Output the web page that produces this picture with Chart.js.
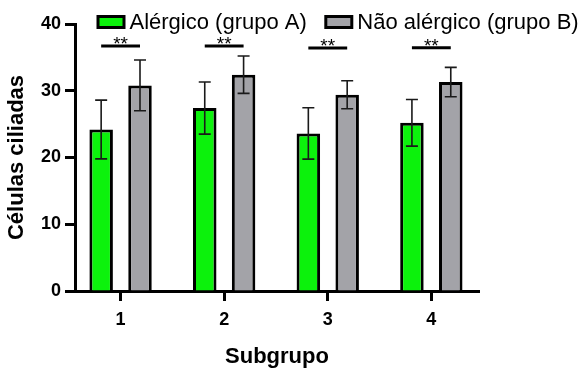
<!DOCTYPE html>
<html lang="pt">
<head>
<meta charset="utf-8">
<title>Células ciliadas por subgrupo</title>
<script src="https://cdn.jsdelivr.net/npm/chart.js@4.4.1/dist/chart.umd.min.js"></script>
<style>
  html, body { margin: 0; padding: 0; background: #fff; }
  #wrap { width: 587px; height: 369px; position: relative; }
</style>
</head>
<body>
<div id="wrap"><canvas id="chart"></canvas></div>
<script>
// Data
const subgroups = ['1', '2', '3', '4'];
const seriesNames = ['Alérgico (grupo A)', 'Não alérgico (grupo B)'];
const groupA = [24.2, 27.4, 23.6, 25.2];
const groupA_sd = [4.4, 3.9, 3.85, 3.5];
const groupB = [30.8, 32.4, 29.4, 31.3];
const groupB_sd = [3.8, 2.8, 2.1, 2.2];
const sigLevels = [36.7, 36.7, 36.4, 36.45];
const sigMarks = ['**', '**', '**', '**'];
const yTicks = [0, 10, 20, 30, 40];

const FONT = '"Liberation Sans", Arial, Helvetica, sans-serif';
const GREEN = '#0cf20c';
const GRAY = '#a3a3a8';

// x position for each subgroup is its index + 1 on a linear axis
const toPoints = vals => vals.map((v, i) => ({ x: i + 1, y: v }));

/* ---------- error bars drawn from the bar elements ---------- */
const errorBars = {
  id: 'errorBars',
  afterDatasetsDraw(chart) {
    const ctx = chart.ctx;
    const y = chart.scales.y;
    const sds = [groupA_sd, groupB_sd];
    ctx.save();
    ctx.strokeStyle = '#1a1a1a';
    ctx.lineWidth = 1.6;
    chart.data.datasets.forEach((ds, di) => {
      const meta = chart.getDatasetMeta(di);
      meta.data.forEach((bar, i) => {
        const mean = ds.data[i].y;
        const top = y.getPixelForValue(mean + sds[di][i]);
        const bot = y.getPixelForValue(mean - sds[di][i]);
        const half = 6;
        ctx.beginPath();
        ctx.moveTo(bar.x, top); ctx.lineTo(bar.x, bot);
        ctx.moveTo(bar.x - half, top); ctx.lineTo(bar.x + half, top);
        ctx.moveTo(bar.x - half, bot); ctx.lineTo(bar.x + half, bot);
        ctx.stroke();
      });
    });
    ctx.restore();
  }
};

/* ---------- significance brackets ---------- */
const significance = {
  id: 'significance',
  afterDatasetsDraw(chart) {
    const ctx = chart.ctx;
    const y = chart.scales.y;
    const a = chart.getDatasetMeta(0).data;
    const b = chart.getDatasetMeta(1).data;
    ctx.save();
    ctx.strokeStyle = '#000';
    ctx.fillStyle = '#000';
    ctx.lineWidth = 3;
    ctx.font = '19px ' + FONT;
    ctx.textAlign = 'center';
    ctx.textBaseline = 'alphabetic';
    sigLevels.forEach((lvl, i) => {
      const py = y.getPixelForValue(lvl);
      ctx.beginPath();
      ctx.moveTo(a[i].x, py);
      ctx.lineTo(b[i].x, py);
      ctx.stroke();
      ctx.fillText(sigMarks[i], (a[i].x + b[i].x) / 2, py + 4);
    });
    ctx.restore();
  }
};

/* ---------- legend with tight box/text spacing ---------- */
const customLegend = {
  id: 'customLegend',
  afterDraw(chart) {
    const ctx = chart.ctx;
    const colors = [GREEN, GRAY];
    const boxW = 26, boxH = 11, gap = 4, itemGap = 19;
    let x = 98;
    ctx.save();
    ctx.font = '22px ' + FONT;
    ctx.textBaseline = 'alphabetic';
    ctx.textAlign = 'left';
    seriesNames.forEach((name, i) => {
      ctx.fillStyle = colors[i];
      ctx.fillRect(x, 16.5, boxW, boxH);
      ctx.lineWidth = 3;
      ctx.strokeStyle = '#000';
      ctx.strokeRect(x, 16.5, boxW, boxH);
      ctx.fillStyle = '#000';
      const tx = x + boxW + 1.5 + gap;
      ctx.fillText(name, tx, 28.5);
      x = tx + ctx.measureText(name).width + itemGap;
    });
    ctx.restore();
  }
};

new Chart(document.getElementById('chart'), {
  type: 'bar',
  data: {
    datasets: [
      {
        label: seriesNames[0],
        data: toPoints(groupA),
        backgroundColor: GREEN,
        borderColor: '#000',
        borderWidth: 3
      },
      {
        label: seriesNames[1],
        data: toPoints(groupB),
        backgroundColor: GRAY,
        borderColor: '#000',
        borderWidth: 3
      }
    ]
  },
  options: {
    responsive: true,
    maintainAspectRatio: false,
    devicePixelRatio: 1,
    animation: false,
    events: [],
    categoryPercentage: 0.75,
    barPercentage: 0.605,
    layout: { padding: { top: 24, right: 108, left: 0, bottom: 0 } },
    plugins: {
      legend: { display: false },
      tooltip: { enabled: false }
    },
    scales: {
      x: {
        type: 'linear',
        min: 0.56,
        max: 4.46,
        offset: false,
        grid: { offset: false, drawOnChartArea: false, drawTicks: true, tickLength: 10, tickWidth: 3, tickColor: '#000' },
        border: { display: true, width: 3, color: '#000' },
        ticks: {
          stepSize: 1,
          includeBounds: false,
          autoSkip: false,
          maxRotation: 0,
          padding: 8,
          color: '#000',
          font: { family: FONT, size: 18, weight: 'bold' },
          callback: v => subgroups[v - 1] ?? ''
        },
        title: {
          display: true,
          text: 'Subgrupo',
          color: '#000',
          font: { family: FONT, size: 22, weight: 'bold', lineHeight: 1.1 },
          padding: { top: 0, bottom: 0 }
        },
        afterFit: s => { s.height = 78; }
      },
      y: {
        min: 0,
        max: 40,
        grid: { drawOnChartArea: false, drawTicks: true, tickLength: 10, tickWidth: 3, tickColor: '#000' },
        border: { display: true, width: 3, color: '#000' },
        afterBuildTicks: s => { s.ticks = yTicks.map(v => ({ value: v })); },
        ticks: {
          padding: 4,
          color: '#000',
          font: { family: FONT, size: 18, weight: 'bold' }
        },
        title: {
          display: true,
          text: 'Células ciliadas',
          color: '#000',
          font: { family: FONT, size: 22, weight: 'bold' },
          padding: { top: 4, bottom: 0 }
        },
        afterFit: s => { s.width = 75; }
      }
    }
  },
  plugins: [errorBars, significance, customLegend]
});
</script>
</body>
</html>
